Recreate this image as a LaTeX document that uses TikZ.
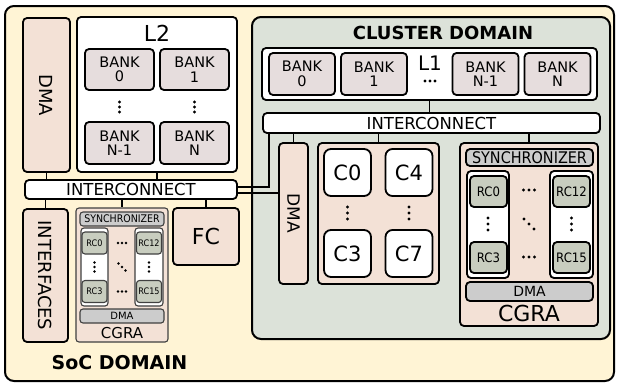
\documentclass[tikz,border=0pt]{standalone}
\usepackage{fontspec}
\setmainfont{DejaVu Sans}
\newfontfamily\narrowfont[FakeStretch=0.9]{DejaVu Sans}
\usepackage{xcolor}
\usepackage{tikz}

\definecolor{socyellow}{HTML}{FFF4D5}
\definecolor{clustergreen}{HTML}{DCE2D9}
\definecolor{blockpink}{HTML}{F3E1D6}
\definecolor{bankgray}{HTML}{E6DDDD}
\definecolor{rcgreen}{HTML}{C8CDBF}
\definecolor{bargray}{HTML}{CCCCCC}

\newcommand{\fs}[1]{\fontsize{#1}{#1}\selectfont}
% three dots around a point, step (dx,dy)
\newcommand{\dotrow}[3]{\foreach \k in {-1,0,1} \fill (#1) ++(\k*#2,\k*#3) circle(1.7pt);}

\begin{document}
\begin{tikzpicture}[x=1pt,y=-1pt]
				\tikzstyle{every node}=[inner sep=0pt, font=\fs{14}];
				\tikzstyle{box}=[draw, line width=1.8pt, rounded corners=4pt];
				\tikzstyle{thin box}=[draw=black!75, line width=1.1pt, rounded corners=3pt];
				\tikzstyle{link}=[line width=1.6pt];

				\useasboundingbox (0,0) rectangle (617,383);

				%SoC domain
				\filldraw[fill=socyellow, line width=2pt, rounded corners=9pt] (5,6) rectangle (614,381);
				\node[font=\bfseries\fs{19}] (soclbl) at (119.5,363) {SoC DOMAIN};

				\node[box, fill=blockpink, rotate=-90, minimum width=154pt, minimum height=47pt, font=\fs{18}] (socdma) at (46.5,95) {DMA};

				%L2
				\node[box, fill=white, minimum width=160pt, minimum height=155pt] (l2) at (157,94.5) {};
				\node[font=\fs{22}] (l2lbl) at (157,33) {L2};
				\node[box, fill=bankgray, minimum width=69pt, minimum height=41pt, align=center, font=\fs{14.5}] (l2b0) at (119.5,69.5) {BANK\\0};
				\node[box, fill=bankgray, minimum width=69pt, minimum height=41pt, align=center, font=\fs{14.5}] (l2b1) at (194.5,69.5) {BANK\\1};
				\node[box, fill=bankgray, minimum width=69pt, minimum height=42pt, align=center, font=\fs{14.5}] (l2bn1) at (119.5,143) {BANK\\N-1};
				\node[box, fill=bankgray, minimum width=69pt, minimum height=42pt, align=center, font=\fs{14.5}] (l2bn) at (194.5,143) {BANK\\N};
				\dotrow{119.5,107}{0}{5}
				\dotrow{194.5,107}{0}{5}

				%SoC interconnect
				\node[box, fill=white, minimum width=212pt, minimum height=19pt, font=\fs{16.5}] (socic) at (131,189.5) {INTERCONNECT};

				\node[box, fill=blockpink, rotate=-90, minimum width=133pt, minimum height=45pt, font=\fs{18}] (socif) at (45.5,275.5) {INTERFACES};
				\node[box, fill=blockpink, minimum width=66pt, minimum height=57pt, font=\fs{22}] (socfc) at (206,236.5) {FC};

				%SoC CGRA
				\node[thin box, fill=blockpink, minimum width=92pt, minimum height=134pt] (soccgra) at (122,275) {};
				\node[thin box, fill=bargray, minimum width=84pt, minimum height=14pt, font=\narrowfont\fs{10.5}] (socsync) at (122,219) {SYNCHRONIZER};
				\node[thin box, fill=white, minimum width=27pt, minimum height=78pt] (soccol0) at (94.5,267) {};
				\node[thin box, fill=white, minimum width=28pt, minimum height=78pt] (soccol3) at (149,267) {};
				\foreach \name/\px/\py/\txt in {rc0/94.5/243/RC0, rc3/94.5/291.5/RC3, rc12/149/243/RC12, rc15/149/291.5/RC15}
					\node[thin box, fill=rcgreen, minimum width=25pt, minimum height=22pt, font=\narrowfont\fs{9}] (soc\name) at (\px,\py) {\txt};
				\node[thin box, fill=bargray, minimum width=84pt, minimum height=14pt, font=\fs{10}] (socdmabar) at (122,316) {DMA};
				\node[font=\fs{15}] (soccgralbl) at (122,333) {CGRA};
				\foreach \px/\py/\dx/\dy in {122/243/4/0, 122/291.5/4/0, 122/267/3.5/3.5, 94.5/267/0/4.5, 149/267/0/4.5}
					\foreach \k in {-1,0,1} \fill (\px,\py) ++(\k*\dx,\k*\dy) circle(1.3pt);

				%Cluster domain
				\filldraw[fill=clustergreen, line width=2pt, rounded corners=9pt] (252,17) rectangle (610,339);
				\node[font=\bfseries\fs{18}] (cllbl) at (443,33) {CLUSTER DOMAIN};

				%L1
				\node[box, fill=white, minimum width=335pt, minimum height=52pt] (l1) at (429.5,74) {};
				\foreach \name/\px/\txt in {b0/302/0, b1/374/1, bn1/485.5/N-1, bn/557.5/N}
					\node[box, fill=bankgray, minimum width=66pt, minimum height=42pt, align=center, font=\fs{14.5}] (l1\name) at (\px,74) {BANK\\\txt};
				\node[font=\fs{20}] (l1lbl) at (430,63) {L1};
				\dotrow{430,81}{5}{0}

				%Cluster interconnect
				\node[box, fill=white, minimum width=337pt, minimum height=20pt, font=\fs{16.5}] (clic) at (431.5,123) {INTERCONNECT};

				\node[box, fill=blockpink, rotate=-90, minimum width=141pt, minimum height=29pt, font=\fs{17}] (cldma) at (293.5,213.5) {DMA};

				%Cores
				\node[box, fill=blockpink, minimum width=121pt, minimum height=141pt] (clcores) at (378.5,213.5) {};
				\foreach \name/\px/\py in {C0/347.5/172.5, C4/409/172.5, C3/347.5/253.5, C7/409/253.5}
					\node[box, fill=white, rounded corners=7pt, minimum width=47pt, minimum height=47pt, font=\fs{21}] (cl\name) at (\px,\py) {\name};
				\dotrow{347.5,213}{0}{6}
				\dotrow{409,213}{0}{6}

				%Cluster CGRA
				\node[box, fill=blockpink, minimum width=138pt, minimum height=183pt] (clcgra) at (529,234.5) {};
				\node[box, fill=bargray, minimum width=127pt, minimum height=17pt, font=\narrowfont\fs{16}] (clsync) at (529.5,157.5) {SYNCHRONIZER};
				\node[box, fill=white, minimum width=42pt, minimum height=107pt] (clcol0) at (488,224.5) {};
				\node[box, fill=white, minimum width=43pt, minimum height=107pt] (clcol3) at (571.5,224.5) {};
				\foreach \name/\px/\py/\txt in {rc0/488.5/191.5/RC0, rc3/488.5/257.5/RC3, rc12/571.5/191.5/RC12, rc15/571.5/257.5/RC15}
					\node[box, fill=rcgreen, minimum width=37pt, minimum height=31pt, font=\narrowfont\fs{13}] (cl\name) at (\px,\py) {\txt};
				\node[box, fill=bargray, minimum width=127pt, minimum height=19pt, font=\fs{14}] (cldmabar) at (529.5,291.5) {DMA};
				\node[font=\fs{22}] (clcgralbl) at (529,313) {CGRA};
				\dotrow{529,190}{5.5}{0}
				\dotrow{529,257}{5.5}{0}
				\dotrow{529,224}{5}{5}
				\dotrow{488,224}{0}{6}
				\dotrow{571.5,224}{0}{6}

				%Links
				\draw[link] (socdma.east) -- (socdma.east |- socic.north);
				\draw[link] (l2.south) -- (l2.south |- socic.north);
				\draw[link] (socif.west |- socic.south) -- (socif.west);
				\draw[link] (soccgra.north |- socic.south) -- (soccgra.north);
				\draw[link] (socfc.north |- socic.south) -- (socfc.north);
				\draw[link] (l1.south) -- (l1.south |- clic.north);
				\draw[link] (cldma.west |- clic.south) -- (cldma.west);
				\draw[link] (clcores.north |- clic.south) -- (clcores.north);
				\draw[link] (clcgra.north |- clic.south) -- (clcgra.north);
				\draw[link] ([xshift=7pt]clic.south west) |- ([yshift=2.5pt]socic.east);
				\draw[link] ([yshift=-3.5pt]socic.east) -- ([yshift=-3.5pt]socic.east -| cldma.south);

			\end{tikzpicture}
\end{document}
